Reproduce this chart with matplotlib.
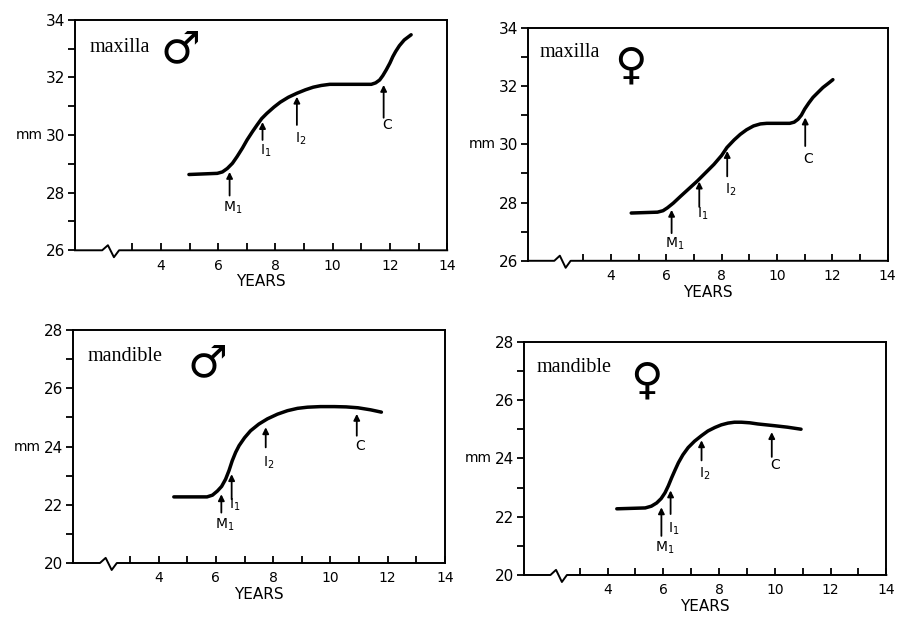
import matplotlib.pyplot as plt

# growth curves (years, mm)
male_maxilla_x = [4.98, 5.97, 6.15, 6.32, 6.50, 6.66, 6.85, 7.01, 7.20, 7.36, 7.52, 7.70, 7.95, 8.17, 8.45, 8.75, 9.05, 9.32, 9.60, 9.90, 10.71, 11.35, 11.50, 11.64, 11.75, 11.87, 12.00, 12.10, 12.20, 12.33, 12.50, 12.74]
male_maxilla_y = [28.63, 28.67, 28.72, 28.84, 29.02, 29.25, 29.55, 29.83, 30.12, 30.35, 30.57, 30.75, 30.97, 31.14, 31.31, 31.45, 31.57, 31.66, 31.72, 31.76, 31.76, 31.76, 31.81, 31.91, 32.06, 32.26, 32.50, 32.72, 32.90, 33.10, 33.30, 33.48]

female_maxilla_x = [4.73, 5.68, 5.88, 6.04, 6.25, 6.52, 7.12, 7.72, 8.00, 8.19, 8.45, 8.67, 8.90, 9.15, 9.40, 9.63, 10.46, 10.62, 10.76, 10.88, 11.00, 11.15, 11.30, 11.50, 11.66, 11.85, 12.02]
female_maxilla_y = [27.64, 27.67, 27.72, 27.82, 27.98, 28.22, 28.74, 29.31, 29.62, 29.89, 30.15, 30.34, 30.50, 30.63, 30.70, 30.72, 30.72, 30.76, 30.86, 31.00, 31.21, 31.42, 31.61, 31.80, 31.95, 32.09, 32.22]

male_mandible_x = [4.53, 5.69, 5.88, 6.05, 6.20, 6.34, 6.46, 6.57, 6.69, 6.81, 7.00, 7.21, 7.50, 7.80, 8.15, 8.50, 8.85, 9.20, 9.65, 10.14, 10.55, 10.96, 11.40, 11.78]
male_mandible_y = [22.27, 22.27, 22.33, 22.47, 22.63, 22.88, 23.18, 23.51, 23.80, 24.03, 24.30, 24.54, 24.77, 24.95, 25.11, 25.23, 25.31, 25.35, 25.37, 25.37, 25.36, 25.33, 25.26, 25.18]

female_mandible_x = [4.33, 5.35, 5.57, 5.76, 5.92, 6.06, 6.18, 6.30, 6.42, 6.54, 6.70, 6.89, 7.12, 7.37, 7.60, 7.85, 8.08, 8.32, 8.55, 8.80, 9.10, 9.39, 9.99, 10.45, 10.94]
female_mandible_y = [22.27, 22.30, 22.36, 22.47, 22.62, 22.82, 23.06, 23.34, 23.60, 23.85, 24.12, 24.37, 24.59, 24.78, 24.94, 25.06, 25.15, 25.21, 25.24, 25.24, 25.22, 25.18, 25.12, 25.07, 25.00]

# eruption events: M1, I1, I2, C
event_labels = ["M$_1$", "I$_1$", "I$_2$", "C"]
male_maxilla_ev_x = [6.40, 7.55, 8.75, 11.78]
male_maxilla_ev_base = [27.90, 29.83, 30.35, 30.60]
male_maxilla_ev_tip = [28.72, 30.45, 31.33, 31.74]
male_maxilla_ev_lab = [27.46, 29.45, 29.88, 30.35]

female_maxilla_ev_x = [6.19, 7.19, 8.20, 11.02]
female_maxilla_ev_base = [26.95, 27.85, 28.90, 29.94]
female_maxilla_ev_tip = [27.75, 28.72, 29.77, 30.92]
female_maxilla_ev_lab = [26.60, 27.60, 28.44, 29.48]

male_mandible_ev_x = [6.19, 6.55, 7.74, 10.92]
male_mandible_ev_base = [21.73, 22.19, 23.97, 24.37]
male_mandible_ev_tip = [22.36, 23.05, 24.66, 25.12]
male_mandible_ev_lab = [21.30, 22.00, 23.45, 24.03]

female_mandible_ev_x = [5.93, 6.26, 7.37, 9.89]
female_mandible_ev_base = [21.34, 22.09, 23.93, 24.05]
female_mandible_ev_tip = [22.32, 22.90, 24.62, 24.90]
female_mandible_ev_lab = [20.94, 21.60, 23.47, 23.76]

panels = [
    {"rect": [0.0835, 0.595, 0.4145, 0.373], "ylim": (26, 34), "title": "maxilla", "sym": "\u2642",
     "x": male_maxilla_x, "y": male_maxilla_y,
     "ev": (male_maxilla_ev_x, male_maxilla_ev_base, male_maxilla_ev_tip, male_maxilla_ev_lab),
     "title_xy": (1.5, 33.05), "sym_xy": (4.7, 32.95)},
    {"rect": [0.588, 0.578, 0.4005, 0.377], "ylim": (26, 34), "title": "maxilla", "sym": "\u2640",
     "x": female_maxilla_x, "y": female_maxilla_y,
     "ev": (female_maxilla_ev_x, female_maxilla_ev_base, female_maxilla_ev_tip, female_maxilla_ev_lab),
     "title_xy": (1.4, 33.15), "sym_xy": (4.7, 32.7)},
    {"rect": [0.081, 0.089, 0.4145, 0.377], "ylim": (20, 28), "title": "mandible", "sym": "\u2642",
     "x": male_mandible_x, "y": male_mandible_y,
     "ev": (male_mandible_ev_x, male_mandible_ev_base, male_mandible_ev_tip, male_mandible_ev_lab),
     "title_xy": (1.5, 27.08), "sym_xy": (5.7, 26.85)},
    {"rect": [0.5835, 0.0696, 0.4035, 0.3774], "ylim": (20, 28), "title": "mandible", "sym": "\u2640",
     "x": female_mandible_x, "y": female_mandible_y,
     "ev": (female_mandible_ev_x, female_mandible_ev_base, female_mandible_ev_tip, female_mandible_ev_lab),
     "title_xy": (1.45, 27.1), "sym_xy": (5.4, 26.65)},
]

fig = plt.figure(figsize=(8.98, 6.18), dpi=100)

for p in panels:
    ax = fig.add_axes(p["rect"])
    lo, hi = p["ylim"]
    ax.set_xlim(1, 14)
    ax.set_ylim(lo, hi)

    ax.plot(p["x"], p["y"], color="black", lw=2.5,
            solid_capstyle="round", solid_joinstyle="round")

    ev_x, ev_base, ev_tip, ev_lab = p["ev"]
    for lab, x, b, t, ly in zip(event_labels, ev_x, ev_base, ev_tip, ev_lab):
        ax.annotate("", xy=(x, t), xytext=(x, b),
                    arrowprops=dict(arrowstyle="-|>", color="black", lw=1.3,
                                    mutation_scale=9, shrinkA=0, shrinkB=0))
        ax.text(x + 0.12, ly, lab, ha="center", va="center", fontsize=10)

    ax.text(*p["title_xy"], p["title"], family="Liberation Serif", fontsize=14.5,
            ha="left", va="center")
    ax.text(*p["sym_xy"], p["sym"], family=["DejaVu Sans"], fontsize=32,
            ha="center", va="center")

    for s in ax.spines.values():
        s.set_linewidth(1.4)
    ax.spines["bottom"].set_visible(False)
    # x axis line with break mark
    tr = ax.get_xaxis_transform()
    ax.plot([1, 1.95, 2.15, 2.36, 2.54, 14], [0, 0, 0.022, -0.03, 0, 0],
            transform=tr, color="black", lw=1.4, clip_on=False)

    ax.set_xticks([4, 6, 8, 10, 12, 14])
    ax.set_xticks([3, 5, 7, 9, 11, 13], minor=True)
    ax.tick_params(axis="x", which="both", direction="in", length=5, width=1.3,
                   labelsize=10, pad=6)
    ax.set_yticks(range(lo, hi + 1, 2))
    ax.set_yticks(range(lo + 1, hi, 2), minor=True)
    ax.tick_params(axis="y", which="both", direction="out", length=5, width=1.3,
                   labelsize=11, pad=2)

    ax.set_xlabel("YEARS", fontsize=11, labelpad=1)
    ax.set_ylabel("mm", rotation=0, fontsize=10, ha="right", va="center", labelpad=2)

fig.savefig("out.png", dpi=100)
